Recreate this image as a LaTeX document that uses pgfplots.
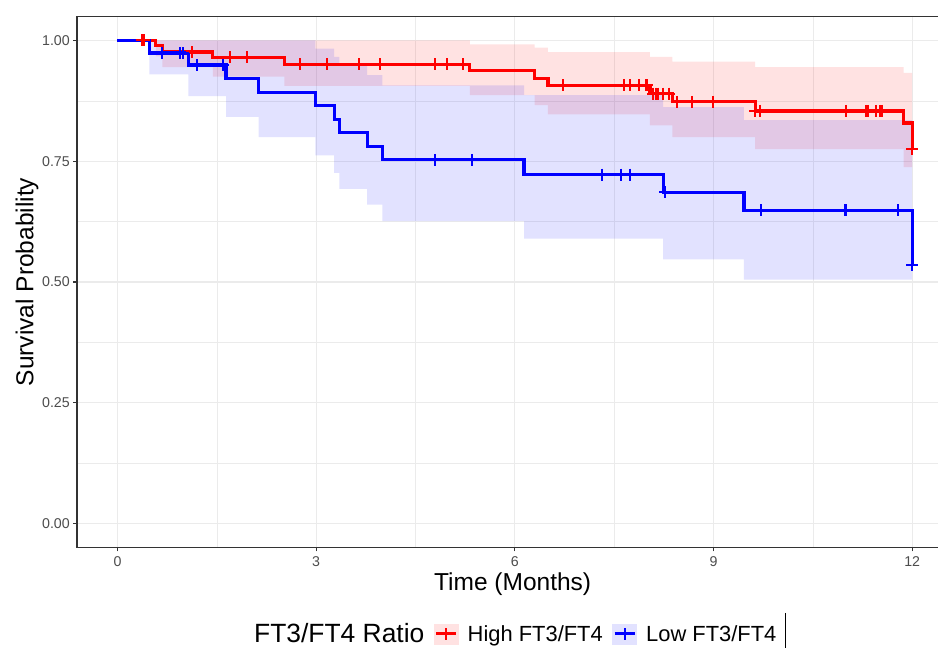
\documentclass[border=0pt]{standalone}
\usepackage{fontspec}
\setmainfont{Liberation Sans}
\usepackage{pgfplots}
\pgfplotsset{compat=1.18}
\usepgfplotslibrary{fillbetween}
\definecolor{tickgray}{HTML}{4D4D4D}
\definecolor{axisgray}{HTML}{333333}
\definecolor{gridgray}{HTML}{EBEBEB}
\definecolor{pinkband}{HTML}{FFE2E2}
\definecolor{blueband}{HTML}{E2E2FF}
\begin{document}
\begin{tikzpicture}[x=1pt,y=1pt]
\begin{axis}[
  scale only axis, width=861pt, height=531.4pt,
  xmin=-0.611, xmax=12.39, ymin=-0.05, ymax=1.05,
  axis lines*=left,
  axis line style={axisgray, line width=1.1pt},
  xtick={0,3,6,9,12}, ytick={0,0.25,0.5,0.75,1},
  minor xtick={1.5,4.5,7.5,10.5}, minor ytick={0.125,0.375,0.625,0.875},
  grid=both,
  major grid style={gridgray, line width=1.1pt},
  minor grid style={gridgray, line width=0.6pt},
  tick align=outside, major tick length=3.7pt, minor tick length=0pt,
  tick style={axisgray, line width=1.1pt},
  /pgf/number format/assume math mode=true,
  ticklabel style={font=\fontsize{14.2}{16}\selectfont, text=tickgray},
  yticklabel style={/pgf/number format/.cd, fixed, fixed zerofill, precision=2},
  xticklabel style={yshift=-2pt},
  xlabel={Time (Months)}, ylabel={Survival Probability},
  label style={font=\fontsize{24.5}{28}\selectfont},
  xlabel style={at={(axis description cs:0.506,0)}, anchor=center, yshift=-36.5pt},
  ylabel style={at={(axis description cs:0,0.5)}, anchor=center, yshift=50pt},
  legend style={at={(axis description cs:0.1945,-0.1624)}, anchor=west,
    draw=none, fill=none, inner sep=0pt, column sep=9.5pt,
    nodes={inner sep=0pt}, font=\fontsize{21.9}{26}\selectfont},
  legend columns=3,
]
% confidence bands
\addplot[name path=ru, draw=none, const plot mark left, forget plot] coordinates {
(0.58,1) (0.68,1) (1.44,1) (2.52,1) (5.32,0.992) (6.30,0.985) (6.50,0.976)
(8.04,0.966) (8.38,0.956) (9.63,0.945) (11.87,0.933) (12.0,0.933)};
\addplot[name path=rl, draw=none, const plot mark left, forget plot] coordinates {
(0.58,0.967) (0.68,0.945) (1.44,0.925) (2.52,0.906) (5.32,0.887) (6.30,0.866) (6.50,0.847)
(8.04,0.824) (8.38,0.800) (9.63,0.775) (11.87,0.738) (12.0,0.738)};
\addplot[red, fill opacity=0.115, draw=none, forget plot] fill between[of=ru and rl];
\addplot[name path=bu, draw=none, const plot mark left, forget plot] coordinates {
(0.48,1) (1.07,1) (1.64,1) (2.13,1) (2.99,0.983) (3.27,0.966) (3.35,0.952) (3.77,0.928)
(4.00,0.907) (6.14,0.887) (8.24,0.862) (9.46,0.835) (12.0,0.835)};
\addplot[name path=bl, draw=none, const plot mark left, forget plot] coordinates {
(0.48,0.930) (1.07,0.885) (1.64,0.842) (2.13,0.800) (2.99,0.762) (3.27,0.726) (3.35,0.693) (3.77,0.660)
(4.00,0.626) (6.14,0.590) (8.24,0.547) (9.46,0.505) (12.0,0.505)};
\addplot[blue, fill opacity=0.115, draw=none, forget plot] fill between[of=bu and bl];
% survival curves
\addplot[red, line width=3.2pt, const plot mark left, forget plot] coordinates {
(0,1) (0.58,0.989) (0.68,0.976) (1.44,0.965) (2.52,0.951) (5.32,0.938) (6.30,0.922)
(6.50,0.907) (8.04,0.890) (8.38,0.873) (9.63,0.854) (11.87,0.829) (12.0,0.775)};
\addplot[blue, line width=3.2pt, const plot mark left, forget plot] coordinates {
(0,1) (0.48,0.974) (1.07,0.949) (1.64,0.922) (2.13,0.893) (2.99,0.866) (3.28,0.837)
(3.35,0.809) (3.77,0.781) (4.00,0.753) (6.14,0.722) (8.24,0.686) (9.46,0.648) (12.0,0.536)};
% censor marks
\addplot[only marks, mark=+, red, mark size=6pt, mark options={line width=2pt}, forget plot] coordinates {
(0.365,1) (0.40,1) (1.12,0.976) (1.70,0.965) (1.95,0.965)
(2.75,0.951) (3.16,0.951) (3.64,0.951) (3.96,0.951) (4.79,0.951) (4.97,0.951) (5.21,0.951)
(6.72,0.907) (7.65,0.907) (7.74,0.907) (7.88,0.907) (7.98,0.907) (8.00,0.907)
(8.09,0.890) (8.13,0.890) (8.16,0.890) (8.24,0.890) (8.33,0.890)
(8.45,0.873) (8.68,0.873) (8.99,0.873)
(9.63,0.854) (9.70,0.854) (11.0,0.854) (11.30,0.854) (11.33,0.854) (11.46,0.854) (11.51,0.854) (11.55,0.854)
(12.0,0.775)};
\addplot[only marks, mark=+, blue, mark size=6pt, mark options={line width=2pt}, forget plot] coordinates {
(0.68,0.974) (0.94,0.974) (0.99,0.974) (1.20,0.949) (1.60,0.949)
(4.79,0.753) (5.35,0.753) (7.31,0.722) (7.61,0.722) (7.74,0.722)
(8.27,0.686) (9.72,0.648) (10.98,0.648) (11.0,0.648) (11.78,0.648) (12.0,0.536)};
% top border
\draw[axisgray, line width=1.1pt] (rel axis cs:0,1) -- (rel axis cs:1,1);
% legend
\addlegendimage{empty legend}
\addlegendentry{\fontsize{26.4}{30}\selectfont FT3/FT4 Ratio}
\addlegendimage{legend image code/.code={
  \fill[pinkband] (0pt,-10pt) rectangle (24pt,10pt);
  \draw[red, line width=3pt] (2pt,0pt) -- (22pt,0pt);
  \draw[red, line width=2pt] (12pt,-6pt) -- (12pt,6pt);}}
\addlegendentry{High FT3/FT4}
\addlegendimage{legend image code/.code={
  \fill[blueband] (0pt,-10pt) rectangle (24pt,10pt);
  \draw[blue, line width=3pt] (2pt,0pt) -- (22pt,0pt);
  \draw[blue, line width=2pt] (12pt,-6pt) -- (12pt,6pt);}}
\addlegendentry{Low FT3/FT4}
\end{axis}
\draw[black, line width=0.8pt] (708.6,-65.3) -- (708.6,-100.3);
\pgfresetboundingbox
\path[use as bounding box] (-77,-100.3) rectangle (861,547.7);
\end{tikzpicture}
\end{document}
